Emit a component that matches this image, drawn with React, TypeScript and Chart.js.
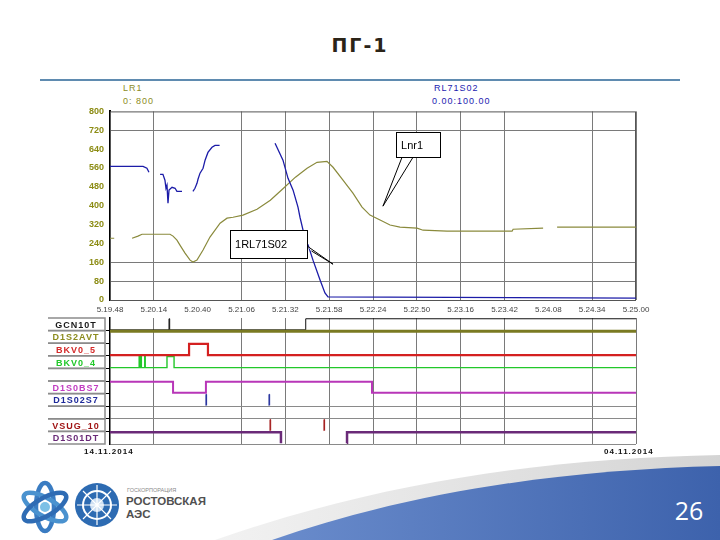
import React, { useEffect, useRef } from "react";
import { Chart, registerables } from "chart.js";

Chart.register(...registerables);
Chart.defaults.font.family = '"Liberation Sans", Arial, sans-serif';

// ---------- time axis (seconds from 5.19.48) ----------
const TIME_TICKS = ["5.19.48", "5.20.14", "5.20.40", "5.21.06", "5.21.32", "5.21.58", "5.22.24", "5.22.50", "5.23.16", "5.23.42", "5.24.08", "5.24.34", "5.25.00"];
const TICK_STEP_S = 26;
const SPAN_S = 312;
const X_GRID_SHOWN = [false, true, false, true, true, true, true, true, true, true, false, true, true];

// ---------- analog panel ----------
const LEVEL_TICKS = [0, 80, 160, 240, 320, 400, 480, 560, 640, 720, 800];
const LEVEL_GRID_SHOWN = [80, 160, 720];

const RL_TIME = [0, 19.6, 21.9, 23.1, 26, 29.7, 31.4, 32.6, 33.2, 33.8, 34.4, 35.0, 36.8, 38.6, 39.7, 42.7, 46, 49.2, 50.4, 51.6, 52.2, 53.4, 55.2, 56.4, 58.1, 60.5, 62.3, 65.0, 80, 97.9, 102.6, 105.6, 108.6, 111.5, 112.7, 114.5, 115.7, 117.5, 120.4, 124.6, 127.5, 129.3, 312];
const RL_VALUE = [567, 567, 559, 542, null, 533, 533, 508, 474, 487, 411, 466, 478, 474, 461, 461, null, 461, 474, 495, 512, 538, 559, 593, 626, 648, 656, 656, null, 665, 593, 516, 466, 394, 351, 296, 254, 233, 169, 85, 30, 13, 8];

const LNR_TIME = [0, 2.5, 5, 13.1, 16.6, 19.0, 35.6, 37.4, 39.7, 41.5, 44.5, 47.5, 49.2, 51.6, 55.2, 59.3, 65.3, 69.4, 73.0, 78.9, 87.2, 95.1, 102.9, 110.0, 116.9, 122.8, 128.7, 132.3, 138.2, 144.1, 149.5, 154.2, 160.2, 166.1, 172.0, 182.1, 185.7, 199.9, 238.5, 239.1, 256.9, 262, 265.2, 312];
const LNR_VALUE = [262, 262, null, 262, 271, 279, 279, 271, 254, 233, 199, 169, 161, 169, 212, 267, 326, 347, 351, 360, 385, 423, 474, 521, 559, 584, 588, 563, 508, 453, 394, 360, 339, 318, 309, 305, 296, 292, 292, 300, 305, null, 309, 309];

// callouts in data units (seconds, level)
const CALLOUTS = [
  { text: "1RL71S02", box: [71.2, 296, 116.9, 178], base: [[116.9, 229], [119.5, 208]], tip: [132.3, 152] },
  { text: "Lnr1", box: [169.7, 711, 195.8, 605], base: [[173.2, 605], [179.7, 605]], tip: [161.9, 398] },
];

// ---------- digital panel ----------
const SIGNAL_NAMES = ["GCN10T", "D1S2AVT", "BKV0_5", "BKV0_4", "", "D1S0BS7", "D1S02S7", "", "VSUG_10", "D1S01DT"];

const GCN10T_TIME = [0, 35.0, 35.4, 116.1, 312];
const GCN10T_STATE = [0, 1, 0, 1, 1];
const D1S2AVT_TIME = [0, 312];
const D1S2AVT_STATE = [1, 1];
const BKV0_5_TIME = [0, 46.9, 58.1, 312];
const BKV0_5_STATE = [0, 1, 0, 0];
const BKV0_4_TIME = [0, 17.3, 17.6, 18.3, 18.6, 20.6, 20.9, 33.8, 38.0, 312];
const BKV0_4_STATE = [0, 1, 0, 1, 0, 1, 0, 1, 0, 0];
const D1S0BS7_TIME = [0, 37.4, 56.9, 155.4, 312];
const D1S0BS7_STATE = [1, 0, 1, 0, 0];
const D1S02S7_TIME = [0, 56.8, 56.9, 57.3, 94.2, 94.3, 94.7, 312];
const D1S02S7_STATE = [0, 0, 1, 0, 0, 1, 0, 0];
const VSUG_10_TIME = [0, 94.8, 94.9, 95.3, 126.8, 126.9, 127.3, 312];
const VSUG_10_STATE = [0, 0, 1, 0, 0, 1, 0, 0];
const D1S01DT_TIME = [0, 101.4, 140.5, 140.6, 312];
const D1S01DT_STATE = [1, 0, 0, 1, 1];

const SIGNALS = [
  { name: "D1S2AVT", time: D1S2AVT_TIME, state: D1S2AVT_STATE },
  { name: "D1S01DT", time: D1S01DT_TIME, state: D1S01DT_STATE },
  { name: "GCN10T", time: GCN10T_TIME, state: GCN10T_STATE },
  { name: "BKV0_5", time: BKV0_5_TIME, state: BKV0_5_STATE },
  { name: "BKV0_4", time: BKV0_4_TIME, state: BKV0_4_STATE },
  { name: "D1S0BS7", time: D1S0BS7_TIME, state: D1S0BS7_STATE },
  { name: "D1S02S7", time: D1S02S7_TIME, state: D1S02S7_STATE },
  { name: "VSUG_10", time: VSUG_10_TIME, state: VSUG_10_STATE },
];

const SIGNAL_STYLE: Record<string, { color: string; width: number; label: string; hideLow: boolean }> = {
  GCN10T: { color: "#111111", width: 1, label: "#1a1a1a", hideLow: false },
  D1S2AVT: { color: "#7a7a22", width: 3, label: "#8c8c1e", hideLow: false },
  BKV0_5: { color: "#d42020", width: 2.2, label: "#d42a2a", hideLow: false },
  BKV0_4: { color: "#22c82a", width: 1.4, label: "#22c82a", hideLow: false },
  D1S0BS7: { color: "#b836b8", width: 2, label: "#c23cc2", hideLow: false },
  D1S02S7: { color: "#1e2a9a", width: 1, label: "#1e2a9a", hideLow: true },
  VSUG_10: { color: "#a01414", width: 1, label: "#a01414", hideLow: true },
  D1S01DT: { color: "#6a2a78", width: 2.5, label: "#6a2a78", hideLow: true },
};

const HI = 0.06;
const LO = 0.94;

const tickLabel = (v: number) => TIME_TICKS[Math.round(v / TICK_STEP_S)] ?? "";

const framePlugin = {
  id: "frame",
  beforeDatasetsDraw(chart: any) {
    const { ctx, chartArea: a } = chart;
    ctx.save();
    ctx.strokeStyle = "#555";
    ctx.lineWidth = 1;
    ctx.strokeRect(a.left + 0.5, a.top + 0.5, a.right - a.left - 1, a.bottom - a.top);
    ctx.restore();
  },
};

const calloutPlugin = {
  id: "callouts",
  afterDatasetsDraw(chart: any) {
    const { ctx } = chart;
    const x = chart.scales.x;
    const y = chart.scales.y;
    const P = (p: number[]) => [x.getPixelForValue(p[0]), y.getPixelForValue(p[1])];
    ctx.save();
    CALLOUTS.forEach((c) => {
      const [x1, y1] = P([c.box[0], c.box[1]]);
      const [x2, y2] = P([c.box[2], c.box[3]]);
      const b1 = P(c.base[0]);
      const b2 = P(c.base[1]);
      const t = P(c.tip);
      ctx.fillStyle = "#fff";
      ctx.strokeStyle = "#000";
      ctx.lineWidth = 1;
      ctx.beginPath();
      ctx.moveTo(b1[0], b1[1]);
      ctx.lineTo(t[0], t[1]);
      ctx.lineTo(b2[0], b2[1]);
      ctx.closePath();
      ctx.fill();
      ctx.beginPath();
      ctx.moveTo(b1[0], b1[1]);
      ctx.lineTo(t[0], t[1]);
      ctx.lineTo(b2[0], b2[1]);
      ctx.stroke();
      ctx.fillRect(x1, y1, x2 - x1, y2 - y1);
      ctx.strokeRect(Math.round(x1) + 0.5, Math.round(y1) + 0.5, Math.round(x2 - x1), Math.round(y2 - y1));
      ctx.fillStyle = "#000";
      ctx.font = '11px "Liberation Sans", Arial, sans-serif';
      ctx.textBaseline = "middle";
      ctx.textAlign = "left";
      ctx.fillText(c.text, x1 + 5, (y1 + y2) / 2 + 1);
    });
    ctx.restore();
  },
};

const labelColumnPlugin = {
  id: "labelColumn",
  afterDraw(chart: any) {
    const { ctx, chartArea: a } = chart;
    const y = chart.scales.y;
    const colL = a.left - 63;
    const colR = a.left - 5;
    ctx.save();
    for (let i = 0; i < SIGNAL_NAMES.length; i++) {
      const y0 = y.getPixelForValue(i);
      const y1 = y.getPixelForValue(i + 1);
      ctx.strokeStyle = "#8c8c8c";
      ctx.lineWidth = 1.5;
      ctx.strokeRect(colL, y0, colR - colL, y1 - y0);
      const name = SIGNAL_NAMES[i];
      if (name) {
        ctx.fillStyle = SIGNAL_STYLE[name]?.label ?? "#000";
        ctx.font = 'bold 9px "Liberation Sans", Arial, sans-serif';
        try { (ctx as any).letterSpacing = "1px"; } catch (e) {}
        ctx.textAlign = "center";
        ctx.textBaseline = "middle";
        ctx.fillText(name, (colL + colR) / 2, (y0 + y1) / 2 + 1);
      }
    }
    ctx.restore();
  },
};

function App() {
  const topRef = useRef<HTMLCanvasElement>(null);
  const botRef = useRef<HTMLCanvasElement>(null);

  useEffect(() => {
    const gridX = (ctx: any) => (X_GRID_SHOWN[ctx.index] ? "#7a7a7a" : "rgba(0,0,0,0)");

    const top = new Chart(topRef.current!, {
      type: "line",
      data: {
        datasets: [
          {
            label: "RL71S02",
            data: RL_TIME.map((t, i) => ({ x: t, y: RL_VALUE[i] })),
            borderColor: "#1c1ca8",
            borderWidth: 1.3,
            pointRadius: 0,
            spanGaps: false,
            tension: 0,
          },
          {
            label: "Lnr1",
            data: LNR_TIME.map((t, i) => ({ x: t, y: LNR_VALUE[i] })),
            borderColor: "#8a8a3c",
            borderWidth: 1.2,
            pointRadius: 0,
            spanGaps: false,
            tension: 0,
          },
        ],
      },
      options: {
        responsive: false,
        animation: false,
        maintainAspectRatio: false,
        layout: { padding: { left: 0, right: 24, top: 11, bottom: 0 } },
        plugins: { legend: { display: false }, tooltip: { enabled: false } },
        scales: {
          x: {
            type: "linear",
            min: 0,
            max: SPAN_S,
            afterFit: (s: any) => { s.height = 20; },
            ticks: {
              stepSize: TICK_STEP_S,
              autoSkip: false,
              maxRotation: 0,
              padding: 5,
              color: "#444",
              font: { size: 8 },
              callback: (v: any) => tickLabel(Number(v)),
            },
            grid: { color: gridX, drawTicks: false, lineWidth: 1 },
            border: { display: false },
          },
          y: {
            type: "linear",
            min: 0,
            max: 800,
            afterFit: (s: any) => { s.width = 50; },
            afterBuildTicks: (s: any) => { s.ticks = LEVEL_TICKS.map((v) => ({ value: v })); },
            ticks: {
              padding: 6,
              color: "#8c8c14",
              font: { size: 9, weight: "bold" },
              callback: (v: any) => String(v),
            },
            grid: {
              color: (ctx: any) => (LEVEL_GRID_SHOWN.includes(ctx.tick?.value) ? "#7a7a7a" : "rgba(0,0,0,0)"),
              drawTicks: false,
            },
            border: { display: true, color: "#000", width: 2 },
          },
        },
      } as any,
      plugins: [framePlugin, calloutPlugin],
    });

    const bot = new Chart(botRef.current!, {
      type: "line",
      data: {
        datasets: SIGNALS.map((s) => {
          const row = SIGNAL_NAMES.indexOf(s.name);
          const st = SIGNAL_STYLE[s.name];
          return {
            label: s.name,
            data: s.time.map((t, i) => ({ x: t, y: row + (s.state[i] ? HI : LO) })),
            borderColor: st.color,
            borderWidth: st.width,
            pointRadius: 0,
            stepped: true,
            tension: 0,
            segment: {
              borderColor: (ctx: any) =>
                st.hideLow && s.state[ctx.p0DataIndex] === 0 && s.state[ctx.p1DataIndex] === 0 ? "rgba(0,0,0,0)" : st.color,
            },
          };
        }),
      },
      options: {
        responsive: false,
        animation: false,
        maintainAspectRatio: false,
        layout: { padding: { left: 0, right: 24, top: 6, bottom: 8 } },
        plugins: { legend: { display: false }, tooltip: { enabled: false } },
        scales: {
          x: {
            type: "linear",
            min: 0,
            max: SPAN_S,
            afterFit: (s: any) => { s.height = 0; },
            ticks: { stepSize: TICK_STEP_S, autoSkip: false, display: false },
            grid: { color: gridX, drawTicks: false },
            border: { display: false },
          },
          y: {
            type: "linear",
            min: 0,
            max: SIGNAL_NAMES.length,
            reverse: true,
            afterFit: (s: any) => { s.width = 62; },
            ticks: { stepSize: 1, display: false },
            grid: {
              color: (ctx: any) => ([7, 8, 10].includes(ctx.tick?.value) ? "#8a8a8a" : "rgba(0,0,0,0)"),
              tickColor: (ctx: any) => (ctx.tick?.value > 0 && ctx.tick?.value < 10 ? "#000" : "rgba(0,0,0,0)"),
              tickLength: 4,
              drawTicks: true,
            },
            border: { display: true, color: "#000", width: 1.5 },
          },
        },
      } as any,
      plugins: [labelColumnPlugin],
    });

    return () => {
      top.destroy();
      bot.destroy();
    };
  }, []);

  const small: React.CSSProperties = {
    position: "absolute",
    fontFamily: '"Liberation Sans", Arial, sans-serif',
    fontSize: 9,
    letterSpacing: 1,
    lineHeight: "10px",
    whiteSpace: "nowrap",
  };

  return (
    <div style={{ position: "absolute", left: 0, top: 0, width: 720, height: 540, background: "#fff", overflow: "hidden" }}>
      <svg width={720} height={540} style={{ position: "absolute", left: 0, top: 0 }}>
        <defs>
          <linearGradient id="blueSwoosh" x1="0" x2="1" y1="0" y2="0">
            <stop offset="0" stopColor="#6a8ccc" />
            <stop offset="1" stopColor="#3d62ac" />
          </linearGradient>
          <linearGradient id="greySwoosh" x1="0" x2="1" y1="0" y2="0">
            <stop offset="0" stopColor="#f2f2f2" />
            <stop offset="1" stopColor="#d4d4d4" />
          </linearGradient>
        </defs>
        <path d="M 215 540 C 380 482, 550 458, 720 455 L 720 540 Z" fill="url(#greySwoosh)" />
        <path d="M 272 540 C 410 492, 560 470, 720 466 L 720 540 Z" fill="url(#blueSwoosh)" />
        <text x={689} y={520} fontSize={25} fill="#fff" textAnchor="middle" fontFamily='"Open Sans", sans-serif'>26</text>

        {/* Rosatom-like logo */}
        <g transform="translate(45,507)">
          <ellipse rx={24} ry={9} fill="none" stroke="#3a7cc2" strokeWidth={4.5} transform="rotate(90)" />
          <ellipse rx={24} ry={9} fill="none" stroke="#4a92cf" strokeWidth={4.5} transform="rotate(30)" />
          <ellipse rx={24} ry={9} fill="none" stroke="#2f6cb4" strokeWidth={4.5} transform="rotate(150)" />
          <circle r={5} fill="#7cc0e6" />
        </g>
        {/* Rostov NPP circular logo */}
        <g transform="translate(97,505)">
          <circle r={22} fill="#2d6bb2" />
          <circle r={14} fill="none" stroke="#fff" strokeWidth={2} />
          <circle r={7} fill="#cfe0f3" />
          <path d="M -20 0 L 20 0 M 0 -20 L 0 20 M -14 -14 L 14 14 M -14 14 L 14 -14" stroke="#fff" strokeWidth={1.2} />
        </g>
        <text x={127} y={492} fontSize={5.5} fill="#8a8a8a" fontFamily='"Liberation Sans", Arial, sans-serif'>ГОСКОРПОРАЦИЯ</text>
        <text x={126} y={505} fontSize={11.5} fontWeight="bold" fill="#505050" fontFamily='"Liberation Sans", Arial, sans-serif'>РОСТОВСКАЯ</text>
        <text x={126} y={518} fontSize={11.5} fontWeight="bold" fill="#505050" fontFamily='"Liberation Sans", Arial, sans-serif'>АЭС</text>
      </svg>

      <div style={{ position: "absolute", left: 0, top: 34, width: 720, textAlign: "center", fontFamily: '"DejaVu Sans", sans-serif', fontWeight: "bold", fontSize: 19, lineHeight: "22px", letterSpacing: 2, color: "#2b2418" }}>
        ПГ-1
      </div>
      <div style={{ position: "absolute", left: 40, top: 79, width: 640, height: 2, background: "#5f8bb0" }} />

      <div style={{ ...small, left: 123, top: 83, color: "#8c8c1e" }}>LR1</div>
      <div style={{ ...small, left: 123, top: 96, color: "#8c8c1e" }}>0: 800</div>
      <div style={{ ...small, left: 434, top: 83, color: "#1c1cb0" }}>RL71S02</div>
      <div style={{ ...small, left: 432, top: 96, color: "#1c1cb0" }}>0.00:100.00</div>

      <canvas ref={topRef} width={600} height={220} style={{ position: "absolute", left: 60, top: 100, width: 600, height: 220 }} />
      <canvas ref={botRef} width={612} height={140} style={{ position: "absolute", left: 48, top: 312, width: 612, height: 140 }} />

      <div style={{ ...small, left: 84, top: 447, fontWeight: "bold", fontSize: 8, color: "#111" }}>14.11.2014</div>
      <div style={{ ...small, left: 604, top: 447, fontWeight: "bold", fontSize: 8, color: "#111" }}>04.11.2014</div>
    </div>
  );
}

export default App;
